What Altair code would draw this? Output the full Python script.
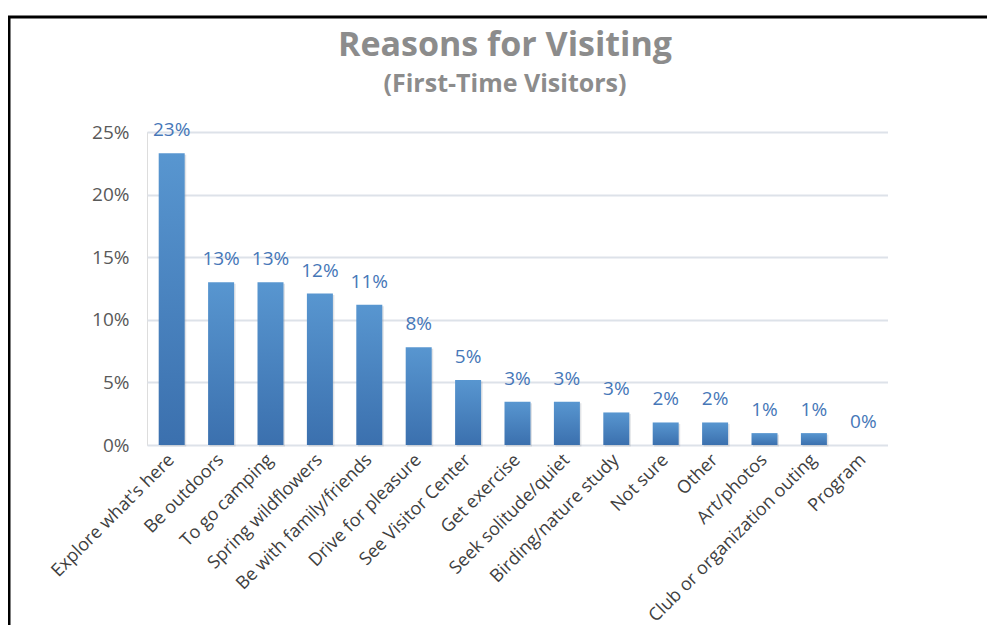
import altair as alt
import pandas as pd

categories = ["Explore what's here", "Be outdoors", "To go camping", "Spring wildflowers",
              "Be with family/friends", "Drive for pleasure", "See Visitor Center", "Get exercise",
              "Seek solitude/quiet", "Birding/nature study", "Not sure", "Other", "Art/photos",
              "Club or organization outing", "Program"]
values = [23.3, 13.0, 13.0, 12.1, 11.2, 7.8, 5.2, 3.45, 3.45, 2.6, 1.8, 1.8, 0.95, 0.95, 0.0]
value_labels = ["23%", "13%", "13%", "12%", "11%", "8%", "5%", "3%", "3%", "3%", "2%", "2%", "1%", "1%", "0%"]
y_ticks = [0, 5, 10, 15, 20, 25]
title_text = "Reasons for Visiting"
subtitle_text = "(First-Time Visitors)"

df = pd.DataFrame({"reason": categories, "pct": values, "label": value_labels})

FONT = "Open Sans"

x_enc = alt.X("reason:N", sort=None, title=None,
              scale=alt.Scale(paddingInner=0, paddingOuter=0),
              axis=alt.Axis(labelAngle=-45, labelAlign="right", labelBaseline="middle",
                            labelPadding=12, ticks=False, domain=False, grid=False,
                            labelFontSize=18, labelColor="#404040", labelFont=FONT,
                            labelLimit=400))
y_enc = alt.Y("pct:Q", title=None,
              scale=alt.Scale(domain=[0, 25], nice=False),
              axis=alt.Axis(values=y_ticks, labelExpr="datum.value + '%'", ticks=False,
                            domain=False, gridColor="#dde2e9", gridWidth=2,
                            labelFontSize=19, labelColor="#595959", labelFont=FONT,
                            labelPadding=18))

gradient = alt.LinearGradient(
    gradient="linear",
    stops=[alt.GradientStop(color="#5896d0", offset=0),
           alt.GradientStop(color="#3b70ae", offset=1)],
    x1=0, x2=0, y1=0, y2=1)

base = alt.Chart(df)

shadow = base.mark_bar(size=26, color="#9aa3ad", opacity=0.3, xOffset=1.5, yOffset=1.5).encode(
    x=x_enc, y=y_enc)
bars = base.mark_bar(size=26, color=gradient).encode(x=x_enc, y=y_enc)
texts = base.mark_text(dy=-17, baseline="alphabetic", fontSize=19, color="#4677b8",
                       font=FONT).encode(x=x_enc, y=y_enc, text="label:N")

one = alt.Chart(pd.DataFrame({"t": [title_text], "s": [subtitle_text]}))
cover_right = one.mark_rule(color="white", strokeWidth=3).encode(
    x=alt.value(742.5), y=alt.value(-2), y2=alt.value(316))
border_left = one.mark_rule(color="black", strokeWidth=3).encode(
    x=alt.value(-138), y=alt.value(-115), y2=alt.value(700))
border_top = one.mark_rule(color="black", strokeWidth=3).encode(
    x=alt.value(-139), x2=alt.value(900), y=alt.value(-115))
title_mark = one.mark_text(fontSize=34, fontWeight="bold", color="#8c8c8c", font=FONT,
                           align="center", baseline="alphabetic").encode(
    x=alt.value(358), y=alt.value(-76), text="t:N")
subtitle_mark = one.mark_text(fontSize=25, fontWeight="bold", color="#8c8c8c", font=FONT,
                              align="center", baseline="alphabetic").encode(
    x=alt.value(358), y=alt.value(-40), text="s:N")

chart = alt.layer(shadow, bars, texts, cover_right, border_left, border_top,
                  title_mark, subtitle_mark).properties(
    width=741, height=313,
    autosize="none",
    padding={"left": 139, "top": 124, "right": 99, "bottom": 180},
).configure_view(strokeWidth=0, stroke=None).configure_axisX(
    grid=False, domain=False
).configure(background="white")

chart.save("out.html", embed_options={"renderer": "svg", "actions": False})
